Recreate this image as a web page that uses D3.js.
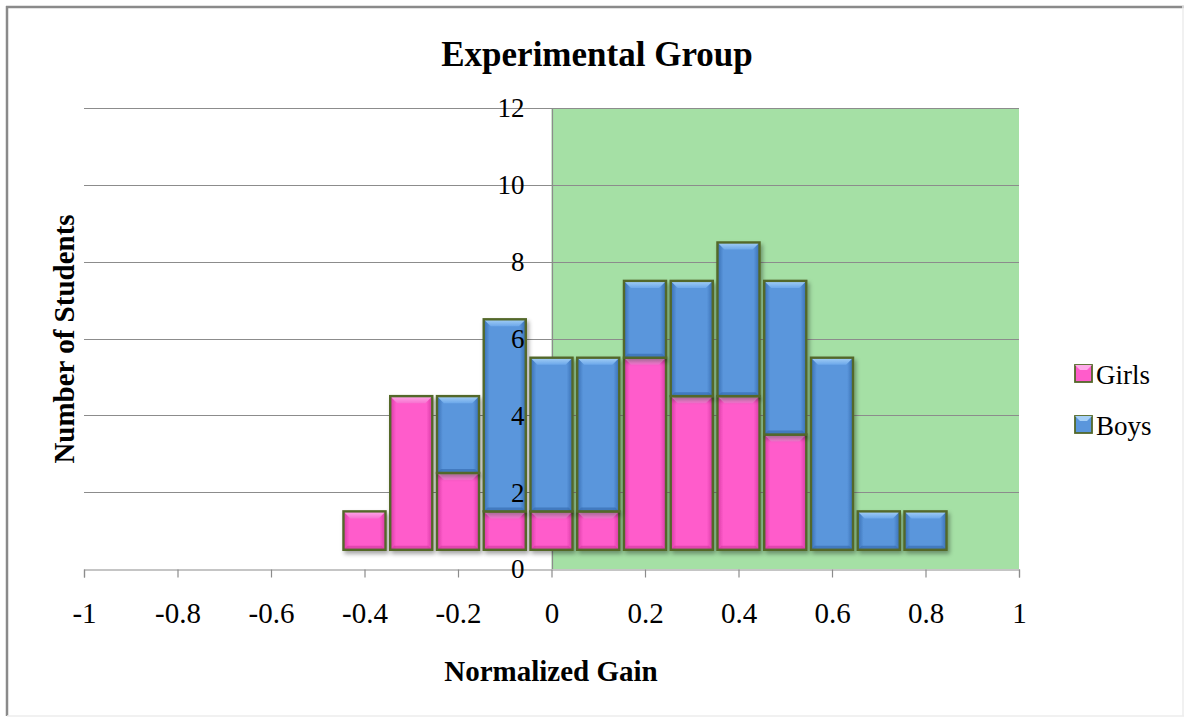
<!DOCTYPE html>
<html>
<head>
<meta charset="utf-8">
<script src="https://cdn.jsdelivr.net/npm/d3@7/dist/d3.min.js"></script>
<style>
  html, body { margin: 0; padding: 0; background: #fff; }
  svg { display: block; font-family: "Liberation Serif", "Times New Roman", serif; }
</style>
</head>
<body>
<svg id="chart" width="1188" height="719"></svg>
<script>
// Histogram bins (bin centre of normalized gain) and counts per group
const binCenters = [-0.4, -0.3, -0.2, -0.1, 0, 0.1, 0.2, 0.3, 0.4, 0.5, 0.6, 0.7, 0.8];
const girls      = [1, 4, 2, 1, 1, 1, 5, 4, 4, 3, 0, 0, 0];
const boys       = [0, 0, 2, 5, 4, 4, 2, 3, 4, 4, 5, 1, 1];
const seriesNames = ["Girls", "Boys"];
const xTicks = [-1, -0.8, -0.6, -0.4, -0.2, 0, 0.2, 0.4, 0.6, 0.8, 1];
const yTicks = [0, 2, 4, 6, 8, 10, 12];
const barBase = 0.5;      // columns sit half a unit above the axis
const binWidth = 0.09;    // drawn column width in gain units

const colors = {
  Girls: { main: "#ff5ccb", light: "#ffaae9", dark: "#d63aa3", edge: "#f772d0" },
  Boys:  { main: "#5a96dc", light: "#a6d0f6", dark: "#386eb2", edge: "#6ca8ea" }
};

const svg = d3.select("#chart");
const margin = { left: 84, right: 169, top: 108, bottom: 150 };
const W = 1188, H = 719;

const x = d3.scaleLinear().domain([-1, 1]).range([margin.left, W - margin.right]);
const y = d3.scaleLinear().domain([0, 12]).range([H - margin.bottom, margin.top]);

// defs: drop shadow + gradients
const defs = svg.append("defs");
const f = defs.append("filter").attr("id", "shadow")
  .attr("x", "-20%").attr("y", "-20%").attr("width", "150%").attr("height", "150%");
f.append("feDropShadow").attr("dx", 2).attr("dy", 3).attr("stdDeviation", 2.2)
  .attr("flood-color", "#000").attr("flood-opacity", 0.35);

seriesNames.forEach(name => {
  const c = colors[name];
  const g = defs.append("linearGradient").attr("id", "body-" + name)
    .attr("x1", 0).attr("x2", 1).attr("y1", 0).attr("y2", 0);
  g.append("stop").attr("offset", "0%").attr("stop-color", c.dark);
  g.append("stop").attr("offset", "14%").attr("stop-color", c.main);
  g.append("stop").attr("offset", "86%").attr("stop-color", c.main);
  g.append("stop").attr("offset", "100%").attr("stop-color", c.dark);
  const t = defs.append("linearGradient").attr("id", "top-" + name)
    .attr("x1", 0).attr("x2", 0).attr("y1", 0).attr("y2", 1);
  t.append("stop").attr("offset", "0%").attr("stop-color", c.light);
  t.append("stop").attr("offset", "100%").attr("stop-color", c.edge);
});

// outer frame
svg.append("line").attr("x1", 7).attr("x2", 7).attr("y1", 6).attr("y2", 716)
  .attr("stroke", "#8a8a8a").attr("stroke-width", 2.5);
svg.append("line").attr("x1", 6).attr("x2", 1184).attr("y1", 7).attr("y2", 7)
  .attr("stroke", "#8a8a8a").attr("stroke-width", 2.5);
svg.append("line").attr("x1", 1183).attr("x2", 1183).attr("y1", 6).attr("y2", 716)
  .attr("stroke", "#ececec").attr("stroke-width", 1.5);
svg.append("line").attr("x1", 7).attr("x2", 1184).attr("y1", 716).attr("y2", 716)
  .attr("stroke", "#ececec").attr("stroke-width", 1.5);

// green region for positive gain
svg.append("rect")
  .attr("x", x(0)).attr("y", y(12))
  .attr("width", x(1) - x(0)).attr("height", y(0) - y(12))
  .attr("fill", "#a5e0a5");

// horizontal gridlines
svg.append("g").selectAll("line").data(yTicks.filter(d => d > 0)).join("line")
  .attr("x1", x(-1)).attr("x2", x(1))
  .attr("y1", d => Math.round(y(d)) + 0.5).attr("y2", d => Math.round(y(d)) + 0.5)
  .attr("stroke", "#8c8c8c").attr("stroke-width", 1.2);

// vertical axis at gain = 0
svg.append("line")
  .attr("x1", Math.round(x(0)) + 0.5).attr("x2", Math.round(x(0)) + 0.5)
  .attr("y1", y(12)).attr("y2", y(0))
  .attr("stroke", "#8c8c8c").attr("stroke-width", 1.2);

// x axis
const xAxis = svg.append("g")
  .attr("transform", `translate(0,${Math.round(y(0)) + 0.5})`)
  .call(d3.axisBottom(x).tickValues(xTicks).tickSize(8).tickPadding(25)
    .tickFormat(d => String(d).replace("−", "-")));
xAxis.select(".domain").attr("stroke", "#8c8c8c").attr("stroke-width", 1.2);
xAxis.selectAll(".tick line").attr("stroke", "#8c8c8c").attr("stroke-width", 1.2);
xAxis.selectAll(".tick text")
  .attr("font-family", "Liberation Serif, serif").attr("font-size", 29).attr("fill", "#000");

// stacked columns
const rows = binCenters.map((c, i) => ({ center: c, Girls: girls[i], Boys: boys[i] }));
const stacked = d3.stack().keys(seriesNames).offset(d3.stackOffsetNone)(rows);

const barsG = svg.append("g");
const bw = x(binWidth) - x(0);
const bevel = 7;

stacked.forEach(layer => {
  const name = layer.key;
  const c = colors[name];
  layer.forEach(seg => {
    const v = seg[1] - seg[0];
    if (v <= 0) return;
    const cx = x(seg.data.center);
    const x0 = cx - bw / 2, x1 = cx + bw / 2;
    const yTop = y(seg[1] + barBase), yBot = y(seg[0] + barBase);
    const g = barsG.append("g").attr("filter", "url(#shadow)");
    g.append("rect")
      .attr("x", x0).attr("y", yTop).attr("width", bw).attr("height", yBot - yTop)
      .attr("fill", `url(#body-${name})`);
    // top bevel
    g.append("path")
      .attr("d", `M${x0},${yTop} L${x1},${yTop} L${x1 - bevel},${yTop + bevel} L${x0 + bevel},${yTop + bevel} Z`)
      .attr("fill", `url(#top-${name})`);
    // bottom bevel
    g.append("path")
      .attr("d", `M${x0},${yBot} L${x1},${yBot} L${x1 - 4},${yBot - 4} L${x0 + 4},${yBot - 4} Z`)
      .attr("fill", c.dark).attr("opacity", 0.7);
    g.append("rect")
      .attr("x", x0).attr("y", yTop).attr("width", bw).attr("height", yBot - yTop)
      .attr("fill", "none").attr("stroke", "#536829").attr("stroke-width", 2.4);
  });
});

// y tick labels next to the zero axis, drawn over the columns
svg.append("g").selectAll("text").data(yTicks).join("text")
  .attr("x", x(0) - 27).attr("y", d => y(d)).attr("dy", "0.35em")
  .attr("text-anchor", "end").attr("font-size", 27).attr("fill", "#000")
  .text(d => d);

// title and axis titles
svg.append("text").attr("x", 597).attr("y", 66).attr("text-anchor", "middle")
  .attr("font-size", 35).attr("font-weight", "bold").text("Experimental Group");
svg.append("text").attr("x", 551).attr("y", 681).attr("text-anchor", "middle")
  .attr("font-size", 29).attr("font-weight", "bold").text("Normalized Gain");
svg.append("text").attr("transform", "translate(74,339) rotate(-90)")
  .attr("text-anchor", "middle")
  .attr("font-size", 29).attr("font-weight", "bold").text("Number of Students");

// legend
const legend = svg.append("g");
seriesNames.forEach((name, i) => {
  const ly = 373 + i * 51;
  const c = colors[name];
  legend.append("rect").attr("x", 1075).attr("y", ly - 8).attr("width", 17).attr("height", 17)
    .attr("fill", c.main).attr("stroke", "#536829").attr("stroke-width", 1.8);
  legend.append("path")
    .attr("d", `M1075,${ly - 8} L1092,${ly - 8} L1087,${ly - 3} L1080,${ly - 3} Z`)
    .attr("fill", c.light);
  legend.append("text").attr("x", 1096).attr("y", ly + 11)
    .attr("font-size", 27).text(name);
});
</script>
</body>
</html>
